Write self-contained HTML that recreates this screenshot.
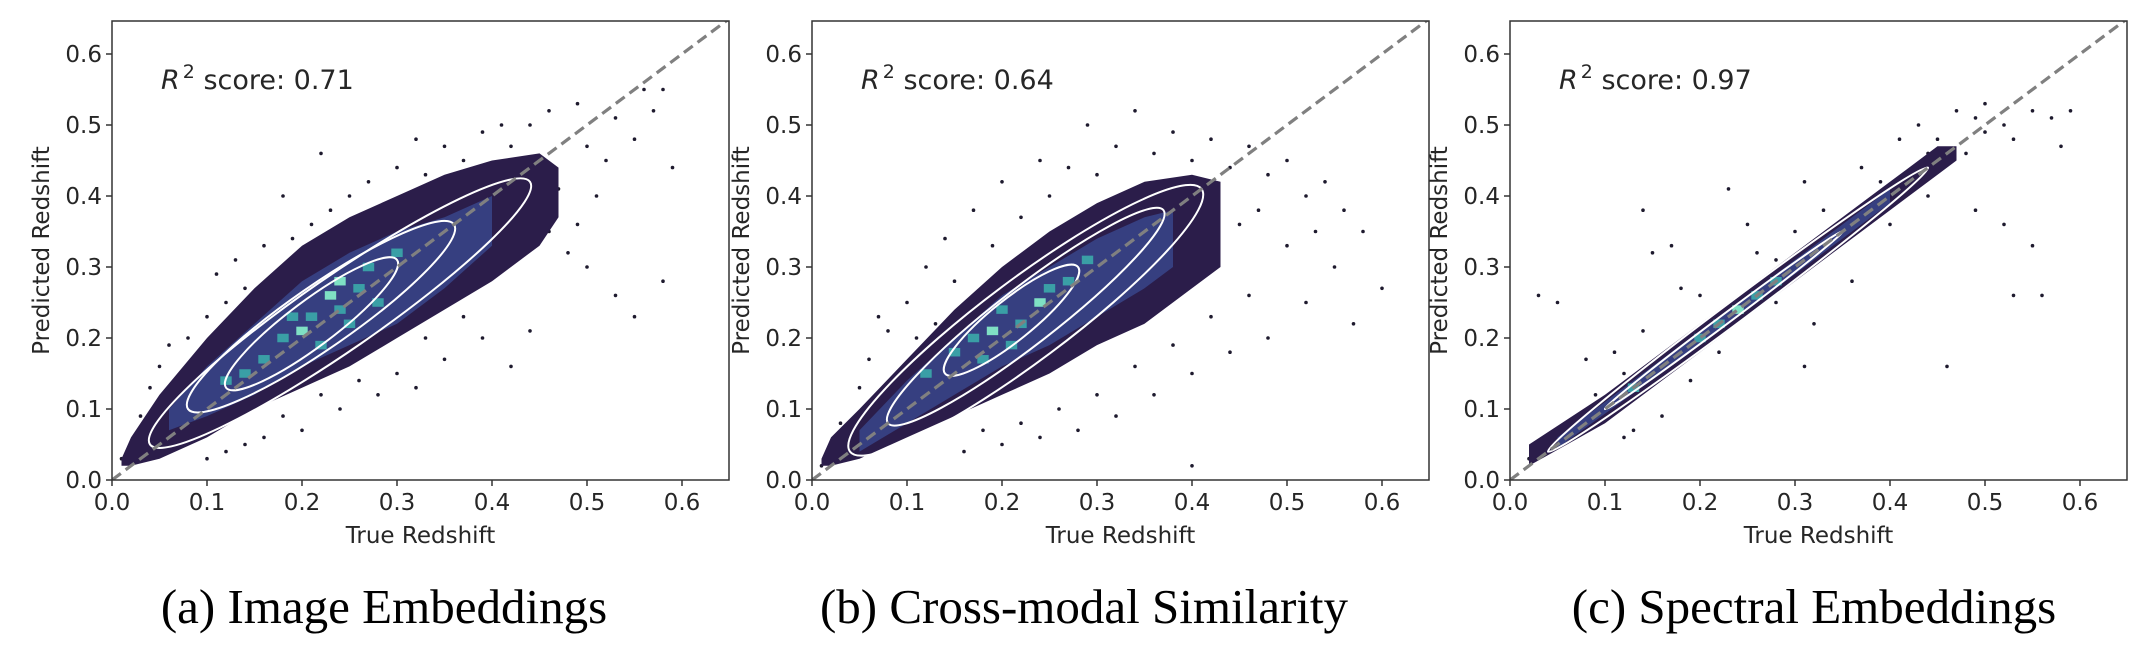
<!DOCTYPE html>
<html><head><meta charset="utf-8">
<style>
html,body{margin:0;padding:0;background:#fff;}
svg{display:block;}
text{font-family:"DejaVu Sans","Liberation Sans",sans-serif;fill:#262626;}
.cap{font-family:"Liberation Serif",serif;fill:#000;}
</style></head>
<body>
<svg id="fig" width="2154" height="666" viewBox="0 0 2154 666" xmlns="http://www.w3.org/2000/svg"></svg>
<script>
// ---------- data ----------
const tickValues = [0.0, 0.1, 0.2, 0.3, 0.4, 0.5, 0.6];
const tickLabels = ["0.0","0.1","0.2","0.3","0.4","0.5","0.6"];
const panelTitles = ["(a) Image Embeddings","(b) Cross-modal Similarity","(c) Spectral Embeddings"];
const r2Scores = ["0.71","0.64","0.97"];

// panel a
const aBandX  = [0.01,0.02,0.05,0.10,0.15,0.20,0.25,0.30,0.35,0.40,0.45,0.47];
const aBandLo = [0.02,0.02,0.03,0.06,0.10,0.13,0.16,0.20,0.24,0.28,0.33,0.37];
const aBandHi = [0.03,0.06,0.12,0.20,0.27,0.33,0.37,0.40,0.43,0.45,0.46,0.44];
const aMidX  = [0.06,0.10,0.15,0.20,0.25,0.30,0.35,0.40];
const aMidLo = [0.07,0.09,0.12,0.16,0.19,0.22,0.27,0.33];
const aMidHi = [0.10,0.16,0.22,0.28,0.32,0.35,0.37,0.40];
const aCellX = [0.14,0.16,0.18,0.20,0.21,0.23,0.24,0.26,0.25,0.19,0.22,0.27,0.30,0.12,0.28,0.24];
const aCellY = [0.15,0.17,0.20,0.21,0.23,0.26,0.24,0.27,0.22,0.23,0.19,0.30,0.32,0.14,0.25,0.28];
const aCellL = [2,2,2,3,2,3,2,2,2,2,2,2,2,2,2,3];
const aPtsX = [0.01,0.02,0.03,0.04,0.05,0.06,0.07,0.08,0.09,0.10,0.11,0.12,0.13,0.14,0.16,0.18,0.19,0.21,0.22,0.23,0.25,0.27,0.28,0.30,0.32,0.33,0.35,0.37,0.39,0.41,0.42,0.44,0.46,0.49,0.50,0.52,0.53,0.55,0.56,0.57,0.58,0.59,0.58,0.55,0.53,0.50,0.48,0.46,0.44,0.42,0.39,0.37,0.35,0.33,0.32,0.30,0.28,0.26,0.24,0.22,0.20,0.18,0.16,0.14,0.12,0.10,0.45,0.47,0.49,0.51,0.40,0.36];
const aPtsY = [0.03,0.05,0.09,0.13,0.16,0.19,0.14,0.20,0.17,0.23,0.29,0.25,0.31,0.27,0.33,0.40,0.34,0.36,0.46,0.38,0.40,0.42,0.38,0.44,0.48,0.43,0.47,0.45,0.49,0.50,0.47,0.50,0.52,0.53,0.47,0.45,0.51,0.48,0.55,0.52,0.55,0.44,0.28,0.23,0.26,0.30,0.32,0.35,0.21,0.16,0.20,0.23,0.17,0.20,0.13,0.15,0.12,0.14,0.10,0.12,0.07,0.09,0.06,0.05,0.04,0.03,0.38,0.41,0.36,0.40,0.33,0.30];
const aContP1X = [0.04,0.08,0.12], aContP1Y = [0.05,0.10,0.13];
const aContP2X = [0.44,0.36,0.30], aContP2Y = [0.42,0.36,0.31];
const aContHW  = [0.045,0.038,0.028];

// panel b
const bBandX  = [0.01,0.02,0.05,0.10,0.15,0.20,0.25,0.30,0.35,0.40,0.43];
const bBandLo = [0.02,0.02,0.03,0.06,0.09,0.12,0.15,0.19,0.22,0.27,0.30];
const bBandHi = [0.03,0.06,0.10,0.17,0.24,0.30,0.35,0.39,0.42,0.43,0.42];
const bMidX  = [0.05,0.10,0.15,0.20,0.25,0.30,0.35,0.38];
const bMidLo = [0.04,0.08,0.12,0.16,0.19,0.23,0.27,0.30];
const bMidHi = [0.07,0.14,0.20,0.26,0.30,0.34,0.37,0.38];
const bCellX = [0.12,0.15,0.17,0.19,0.20,0.22,0.24,0.25,0.27,0.21,0.29,0.18];
const bCellY = [0.15,0.18,0.20,0.21,0.24,0.22,0.25,0.27,0.28,0.19,0.31,0.17];
const bCellL = [2,2,2,3,2,2,3,2,2,2,2,2];
const bPtsX = [0.01,0.03,0.05,0.06,0.08,0.10,0.11,0.12,0.14,0.15,0.17,0.19,0.20,0.22,0.24,0.25,0.27,0.29,0.30,0.32,0.34,0.36,0.38,0.40,0.42,0.44,0.46,0.48,0.50,0.52,0.54,0.56,0.58,0.60,0.55,0.52,0.50,0.48,0.46,0.44,0.42,0.40,0.38,0.36,0.34,0.32,0.30,0.28,0.26,0.24,0.22,0.20,0.18,0.16,0.40,0.53,0.57,0.45,0.47,0.35,0.07,0.13];
const bPtsY = [0.02,0.08,0.13,0.17,0.21,0.25,0.20,0.30,0.34,0.28,0.38,0.33,0.42,0.37,0.45,0.40,0.44,0.50,0.43,0.47,0.52,0.46,0.49,0.45,0.48,0.44,0.47,0.43,0.45,0.40,0.42,0.38,0.35,0.27,0.30,0.25,0.33,0.20,0.26,0.18,0.23,0.15,0.19,0.12,0.16,0.09,0.12,0.07,0.10,0.06,0.08,0.05,0.07,0.04,0.02,0.35,0.22,0.36,0.38,0.38,0.23,0.22];
const bContP1X = [0.04,0.08,0.14], bContP1Y = [0.04,0.08,0.15];
const bContP2X = [0.41,0.37,0.28], bContP2Y = [0.41,0.38,0.30];
const bContHW  = [0.05,0.035,0.025];

// panel c
const cBandX  = [0.02,0.10,0.20,0.30,0.40,0.45,0.47];
const cBandLo = [0.02,0.08,0.18,0.28,0.38,0.43,0.45];
const cBandHi = [0.05,0.12,0.22,0.32,0.42,0.47,0.47];
const cMidX  = [0.05,0.20,0.40];
const cMidLo = [0.045,0.19,0.39];
const cMidHi = [0.06,0.21,0.41];
const cCellX = [0.13,0.20,0.22,0.24,0.26,0.28];
const cCellY = [0.13,0.20,0.22,0.24,0.26,0.28];
const cCellL = [2,2,2,3,2,2];
const cPtsX = [0.02,0.03,0.05,0.08,0.09,0.11,0.12,0.14,0.14,0.15,0.17,0.18,0.20,0.23,0.25,0.26,0.28,0.30,0.31,0.31,0.33,0.35,0.37,0.39,0.41,0.43,0.45,0.46,0.47,0.49,0.50,0.52,0.53,0.55,0.57,0.59,0.58,0.52,0.55,0.56,0.53,0.46,0.49,0.44,0.40,0.36,0.32,0.28,0.22,0.19,0.13,0.16,0.12,0.48,0.50,0.44];
const cPtsY = [0.03,0.26,0.25,0.17,0.12,0.18,0.15,0.21,0.38,0.32,0.33,0.27,0.26,0.41,0.36,0.32,0.31,0.35,0.42,0.16,0.38,0.35,0.44,0.42,0.48,0.50,0.48,0.45,0.52,0.51,0.53,0.50,0.48,0.52,0.51,0.52,0.47,0.36,0.33,0.26,0.26,0.16,0.38,0.40,0.36,0.28,0.22,0.25,0.18,0.14,0.07,0.09,0.06,0.46,0.49,0.46];
const cContP1X = [0.04,0.10], cContP1Y = [0.04,0.10];
const cContP2X = [0.44,0.35], cContP2Y = [0.44,0.35];
const cContHW  = [0.013,0.006];

// ---------- drawing ----------
const NS = "http://www.w3.org/2000/svg";
const svg = document.getElementById("fig");
const LEFTS = [112, 812, 1510];
const Y0 = 480, TOP = 21, XS = 950, YS = 710, W = 617;
const CAPX = [384, 1084, 1814];
const CELLCOL = ["#2b1d4a", "#363f80", "#3a9fa6", "#7fe0c4"];

function mk(tag, attrs, parent) {
  const e = document.createElementNS(NS, tag);
  for (const k in attrs) e.setAttribute(k, attrs[k]);
  (parent || svg).appendChild(e);
  return e;
}

const panels = [
  {bx:aBandX,blo:aBandLo,bhi:aBandHi,mx:aMidX,mlo:aMidLo,mhi:aMidHi,cx:aCellX,cy:aCellY,cl:aCellL,px:aPtsX,py:aPtsY,k1x:aContP1X,k1y:aContP1Y,k2x:aContP2X,k2y:aContP2Y,hw:aContHW},
  {bx:bBandX,blo:bBandLo,bhi:bBandHi,mx:bMidX,mlo:bMidLo,mhi:bMidHi,cx:bCellX,cy:bCellY,cl:bCellL,px:bPtsX,py:bPtsY,k1x:bContP1X,k1y:bContP1Y,k2x:bContP2X,k2y:bContP2Y,hw:bContHW},
  {bx:cBandX,blo:cBandLo,bhi:cBandHi,mx:cMidX,mlo:cMidLo,mhi:cMidHi,cx:cCellX,cy:cCellY,cl:cCellL,px:cPtsX,py:cPtsY,k1x:cContP1X,k1y:cContP1Y,k2x:cContP2X,k2y:cContP2Y,hw:cContHW}
];

const defs = mk("defs", {});
panels.forEach((P, i) => {
  const L = LEFTS[i];
  const sx = v => L + v * XS;
  const sy = v => Y0 - v * YS;
  const cp = mk("clipPath", {id: "clip" + i}, defs);
  mk("rect", {x: L, y: TOP, width: W, height: Y0 - TOP}, cp);

  const g = mk("g", {});
  
  
  const plot = mk("g", {"clip-path": "url(#clip" + i + ")"}, g);

  P.px.forEach((x, j) => {
    const c = mk("circle", {cx: sx(x), cy: sy(P.py[j]), r: 1.8, fill: "#1e1a2e"}, plot);
    
    
  });

  function band(xs, lo, hi, col, name) {
    let pts = xs.map((x, j) => sx(x) + "," + sy(hi[j]));
    for (let j = xs.length - 1; j >= 0; j--) pts.push(sx(xs[j]) + "," + sy(lo[j]));
    const p = mk("polygon", {points: pts.join(" "), fill: col}, plot);
    
    
  }
  band(P.bx, P.blo, P.bhi, CELLCOL[0], 'density-band-outer');
  band(P.mx, P.mlo, P.mhi, CELLCOL[1], 'density-band-inner');

  P.cx.forEach((x, j) => {
    const r = mk("rect", {x: sx(x - 0.006), y: sy(P.cy[j] + 0.006), width: 0.012 * XS, height: 0.012 * YS, fill: CELLCOL[P.cl[j]]}, plot);
    
    
  });

  P.k1x.forEach((x1, j) => {
    const X1 = sx(x1), Y1 = sy(P.k1y[j]), X2 = sx(P.k2x[j]), Y2 = sy(P.k2y[j]);
    const cx = (X1 + X2) / 2, cy = (Y1 + Y2) / 2;
    const a = Math.hypot(X2 - X1, Y2 - Y1) / 2;
    const ang = Math.atan2(Y2 - Y1, X2 - X1) * 180 / Math.PI;
    const e = mk("ellipse", {cx: cx, cy: cy, rx: a, ry: P.hw[j] * 820, fill: "none", stroke: "#ffffff", "stroke-width": 2,
      transform: "rotate(" + ang + " " + cx + " " + cy + ")"}, plot);
    
    
  });

  const d = mk("line", {x1: sx(0), y1: sy(0), x2: sx(0.65), y2: sy(0.65), stroke: "#808080", "stroke-width": 3.2, "stroke-dasharray": "11,6"}, plot);
  
  

  const fr = mk("rect", {x: L, y: TOP, width: W, height: Y0 - TOP, fill: "none", stroke: "#333", "stroke-width": 1.5}, g);
  
  

  tickValues.forEach((v, j) => {
    mk("line", {x1: sx(v), x2: sx(v), y1: Y0, y2: Y0 + 6, stroke: "#333", "stroke-width": 1.5}, g);
    const tx = mk("text", {x: sx(v), y: Y0 + 30, "font-size": 23, "text-anchor": "middle"}, g);
    tx.textContent = tickLabels[j];
    
    
    mk("line", {x1: L - 6, x2: L, y1: sy(v), y2: sy(v), stroke: "#333", "stroke-width": 1.5}, g);
    const ty = mk("text", {x: L - 10, y: sy(v) + 8, "font-size": 23, "text-anchor": "end"}, g);
    ty.textContent = tickLabels[j];
    
    
  });

  const xl = mk("text", {x: L + W / 2, y: 543, "font-size": 23, "text-anchor": "middle"}, g);
  xl.textContent = "True Redshift";
  
  
  const yl = mk("text", {x: 0, y: 0, "font-size": 23, "text-anchor": "middle", transform: "translate(" + (L - 63) + "," + ((TOP + Y0) / 2) + ") rotate(-90)"}, g);
  yl.textContent = "Predicted Redshift";
  
  

  const r2 = mk("text", {x: L + 49, y: 89, "font-size": 27}, g);
  
  
  const t1 = mk("tspan", {"font-style": "italic"}, r2); t1.textContent = "R";
  const t2 = mk("tspan", {dy: -11, "font-size": 19, dx: 3}, r2); t2.textContent = "2";
  const t3 = mk("tspan", {dy: 11}, r2); t3.textContent = " score: " + r2Scores[i];

  const cap = mk("text", {x: CAPX[i], y: 623, "font-size": 49, "text-anchor": "middle", "class": "cap"}, g);
  cap.textContent = panelTitles[i];
  
  
});
</script>
</body></html>
